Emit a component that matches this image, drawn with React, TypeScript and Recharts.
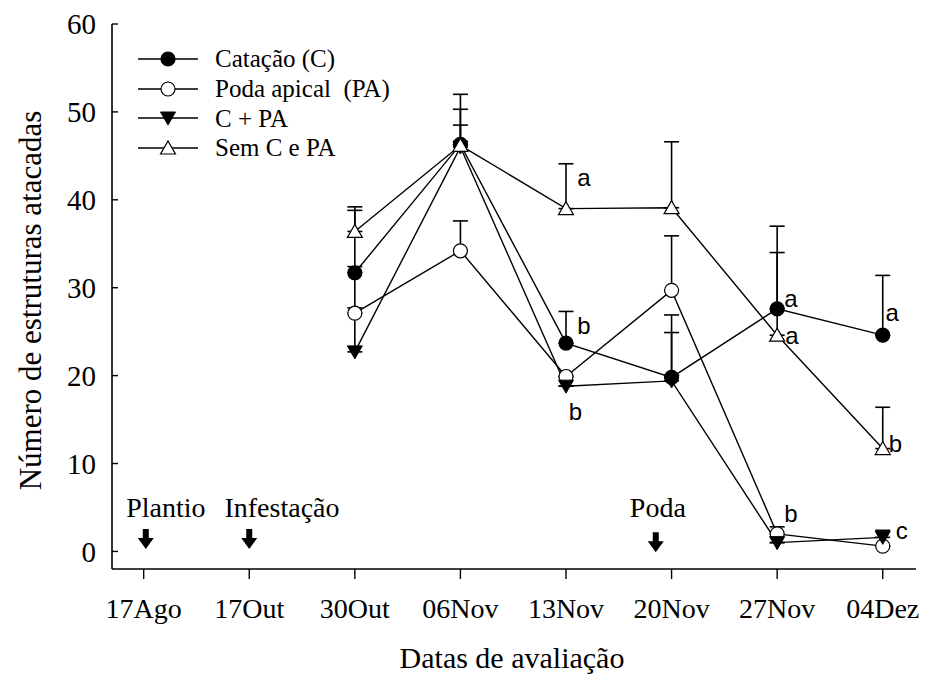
import React from 'react';
import {
  ComposedChart,
  Line,
  Scatter,
  XAxis,
  YAxis,
  ErrorBar,
} from 'recharts';

// evaluation dates (x categories)
const dates = ['17Ago', '17Out', '30Out', '06Nov', '13Nov', '20Nov', '27Nov', '04Dez'];
const evalIdx = [2, 3, 4, 5, 6, 7];

// series means + upper error
const catacao = [31.7, 46.3, 23.7, 19.8, 27.6, 24.6];
const catacaoErr = [0.7, 5.7, 3.6, 7.1, 9.4, 6.8];
const podaApical = [27.1, 34.2, 19.9, 29.7, 2.0, 0.6];
const podaApicalErr = [0.6, 3.4, 0, 6.2, 0.8, 0];
const cPa = [22.7, 46.0, 18.8, 19.4, 1.0, 1.6];
const cPaErr = [16.1, 4.3, 0, 5.5, 0, 0.8];
const semCPa = [36.4, 46.2, 39.0, 39.1, 24.6, 11.7];
const semCPaErr = [2.8, 2.3, 5.1, 7.5, 9.4, 4.7];

const yTicks = [0, 10, 20, 30, 40, 50, 60];

// significance letters
const letterX = [4.17, 4.17, 4.09, 6.13, 6.13, 6.14, 7.09, 7.12, 7.18];
const letterY = [42.5, 25.7, 15.9, 4.3, 28.8, 24.6, 27.2, 12.3, 2.4];
const letterText = ['a', 'b', 'b', 'b', 'a', 'a', 'a', 'b', 'c'];

// management events (text + arrow)
const eventText = ['Plantio', 'Infestação', 'Poda'];
const eventTextX = [0.21, 1.31, 4.87];
const eventTextY = [5.0, 5.0, 5.0];
const eventArrowX = [0.02, 1.0, 4.85];
const eventArrowY = [1.4, 1.4, 1.05];

const SERIES = [
  { key: 'c', name: 'Catação (C)', kind: 'dot-filled' },
  { key: 'pa', name: 'Poda apical  (PA)', kind: 'dot-open' },
  { key: 'cpa', name: 'C + PA', kind: 'tri-down' },
  { key: 'sem', name: 'Sem C e PA', kind: 'tri-up' },
];

const data = evalIdx.map((x, i) => ({
  x,
  c: catacao[i],
  cErr: [0, catacaoErr[i]],
  pa: podaApical[i],
  paErr: [0, podaApicalErr[i]],
  cpa: cPa[i],
  cpaErr: [0, cPaErr[i]],
  sem: semCPa[i],
  semErr: [0, semCPaErr[i]],
}));

const letterRows = letterX.map((x, i) => ({ x, y: letterY[i], t: letterText[i] }));
const eventTextRows = eventText.map((t, i) => ({ x: eventTextX[i], y: eventTextY[i], t }));
const eventArrowRows = eventArrowX.map((x, i) => ({ x, y: eventArrowY[i] }));

const SERIF = '"Liberation Serif", "Times New Roman", serif';
const SANS = '"Liberation Sans", Arial, sans-serif';

const Marker = ({ cx, cy, kind }: any) => {
  if (cx == null || cy == null) return null;
  if (kind === 'dot-filled') return <circle cx={cx} cy={cy} r={7} fill="#000" stroke="#000" strokeWidth={1.2} />;
  if (kind === 'dot-open') return <circle cx={cx} cy={cy} r={7} fill="#fff" stroke="#000" strokeWidth={1.2} />;
  if (kind === 'tri-down')
    return <path d={`M${cx - 7.5},${cy - 6} L${cx + 7.5},${cy - 6} L${cx},${cy + 7} Z`} fill="#000" stroke="#000" strokeWidth={1} />;
  return <path d={`M${cx - 7.5},${cy + 6} L${cx + 7.5},${cy + 6} L${cx},${cy - 7} Z`} fill="#fff" stroke="#000" strokeWidth={1.2} />;
};

const LetterShape = ({ cx, cy, payload }: any) => (
  <text x={cx} y={cy} dy="0.35em" textAnchor="middle" fontFamily={SANS} fontSize={24} fill="#000">
    {payload.t}
  </text>
);

const EventTextShape = ({ cx, cy, payload }: any) => (
  <text x={cx} y={cy} dy="0.33em" textAnchor="middle" fontFamily={SERIF} fontSize={28} fill="#000">
    {payload.t}
  </text>
);

// thick down arrow
const ArrowShape = ({ cx, cy }: any) => (
  <path
    d={`M${cx - 3},${cy - 10} L${cx + 3},${cy - 10} L${cx + 3},${cy - 1} L${cx + 8},${cy - 1} L${cx},${cy + 10} L${cx - 8},${cy - 1} L${cx - 3},${cy - 1} Z`}
    fill="#000"
  />
);

const ChartLegend = () => (
  <div style={{ position: 'absolute', left: 138, top: 44, fontFamily: SERIF, fontSize: 25, color: '#000' }}>
    {SERIES.map((s) => (
      <div key={s.key} style={{ display: 'flex', alignItems: 'center', height: 29.7 }}>
        <svg width={60} height={20} style={{ overflow: 'visible' }}>
          <line x1={0} y1={10} x2={60} y2={10} stroke="#000" strokeWidth={1.5} />
          <Marker cx={30} cy={10} kind={s.kind} />
        </svg>
        <span style={{ marginLeft: 17, whiteSpace: 'pre', lineHeight: 1 }}>{s.name}</span>
      </div>
    ))}
  </div>
);

const YTitle = ({ viewBox }: any) => {
  const x = viewBox.x + 30;
  const y = viewBox.y + viewBox.height / 2 + 4;
  return (
    <text x={x} y={y} transform={`rotate(-90, ${x}, ${y})`} textAnchor="middle" dy="0.35em" fontFamily={SERIF} fontSize={31} fill="#000">
      Número de estruturas atacadas
    </text>
  );
};

const XTitle = ({ viewBox }: any) => (
  <text x={viewBox.x + viewBox.width / 2 - 2} y={viewBox.y + 99} textAnchor="middle" fontFamily={SERIF} fontSize={30} fill="#000">
    Datas de avaliação
  </text>
);

export default function App() {
  return (
    <div style={{ width: 927, height: 675, background: '#fff', position: 'relative' }}>
      <style>{'body{margin:0;}'}</style>
      <ComposedChart width={927} height={675} data={data} margin={{ top: 24, right: 11, bottom: 0, left: 0 }}>
        <XAxis
          dataKey="x"
          type="number"
          domain={[-0.3, 7.315]}
          allowDataOverflow
          ticks={[0, 1, 2, 3, 4, 5, 6, 7]}
          interval={0}
          tickFormatter={(v) => dates[v]}
          height={106}
          tickSize={10}
          tickMargin={19}
          axisLine={{ stroke: '#000', strokeWidth: 1.6 }}
          tickLine={{ stroke: '#000', strokeWidth: 1.4 }}
          tick={{ fill: '#000', fontFamily: SERIF, fontSize: 28 }}
          label={<XTitle />}
        />
        <XAxis xAxisId="top" orientation="top" type="number" domain={[-0.3, 7.315]} height={0} tick={false} tickLine={false} axisLine={{ stroke: '#000', strokeWidth: 1.6 }} />
        <YAxis
          type="number"
          domain={[-2, 60]}
          allowDataOverflow
          ticks={yTicks}
          interval={0}
          width={112}
          tickSize={-6}
          tickMargin={22}
          axisLine={{ stroke: '#000', strokeWidth: 1.6 }}
          tickLine={{ stroke: '#000', strokeWidth: 1.4 }}
          tick={{ fill: '#000', fontFamily: SERIF, fontSize: 29 }}
          label={<YTitle />}
        />
        <YAxis yAxisId="right" orientation="right" type="number" domain={[-2, 60]} width={0} tick={false} tickLine={false} axisLine={{ stroke: '#000', strokeWidth: 1.6 }} />
        {SERIES.map((s) => (
          <Line
            key={s.key}
            dataKey={s.key}
            name={s.name}
            stroke="#000"
            strokeWidth={1.4}
            isAnimationActive={false}
            activeDot={false}
            dot={(p: any) => <Marker key={`${s.key}-${p.index}`} cx={p.cx} cy={p.cy} kind={s.kind} />}
          >
            <ErrorBar dataKey={`${s.key}Err`} direction="y" width={7.5} stroke="#000" strokeWidth={1.6} />
          </Line>
        ))}
        <Scatter data={letterRows} dataKey="y" isAnimationActive={false} shape={<LetterShape />} />
        <Scatter data={eventTextRows} dataKey="y" isAnimationActive={false} shape={<EventTextShape />} />
        <Scatter data={eventArrowRows} dataKey="y" isAnimationActive={false} shape={<ArrowShape />} />
      </ComposedChart>
      <ChartLegend />
    </div>
  );
}
